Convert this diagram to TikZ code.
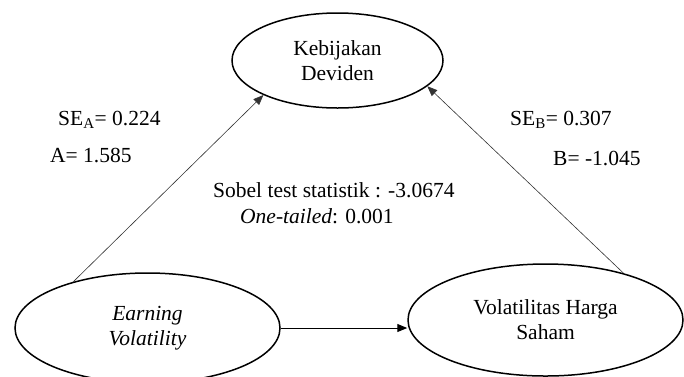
\documentclass[tikz,border=0pt]{standalone}
\usepackage{fontspec}
\setmainfont{Liberation Serif}
\usetikzlibrary{shapes.geometric,arrows.meta}

\begin{document}
\begin{tikzpicture}[
x=1pt, y=-1pt,
vnode/.style={
    ellipse,
    draw,
    line width=1.5pt,
    inner sep=0pt,
    align=center,
    font=\fontsize{21.5}{25}\selectfont
    },
lbl/.style={
    anchor=base west,
    inner sep=0pt,
    font=\fontsize{21.5}{25}\selectfont
    },
arr/.style={
    -{Triangle[length=10pt,width=8pt]},
    },
]
\useasboundingbox (0,0) rectangle (684,376);

\node[vnode, minimum width=211pt, minimum height=95pt] (kd) at (337.5,60.5) {Kebijakan\\Deviden};
\node[vnode, minimum width=265pt, minimum height=110pt] (ev) at (147.5,328) {\textit{Earning}\\\textit{Volatility}};
\node[vnode, minimum width=275pt, minimum height=112pt] (vh) at (545.5,320) {Volatilitas Harga\\Saham};

\draw[arr, line width=0.6pt, black!80] (ev.148) -- (kd.205);
\draw[arr, line width=0.6pt, black!80] (vh.31) -- (kd.344);
\draw[arr, line width=1pt] (ev.east) -- (vh.west |- ev.east);

\node[lbl] (sea) at (58,125) {SE\textsubscript{A}= 0.224};
\node[lbl] (a) at (50,162) {A= 1.585};
\node[lbl] (seb) at (510,125) {SE\textsubscript{B}= 0.307};
\node[lbl] (b) at (553,165) {B= -1.045};
\node[lbl] (sobel) at (213,197) {Sobel test statistik : -3.0674};
\node[lbl] (tail) at (240,223) {\textit{One-tailed}: 0.001};
\end{tikzpicture}
\end{document}
